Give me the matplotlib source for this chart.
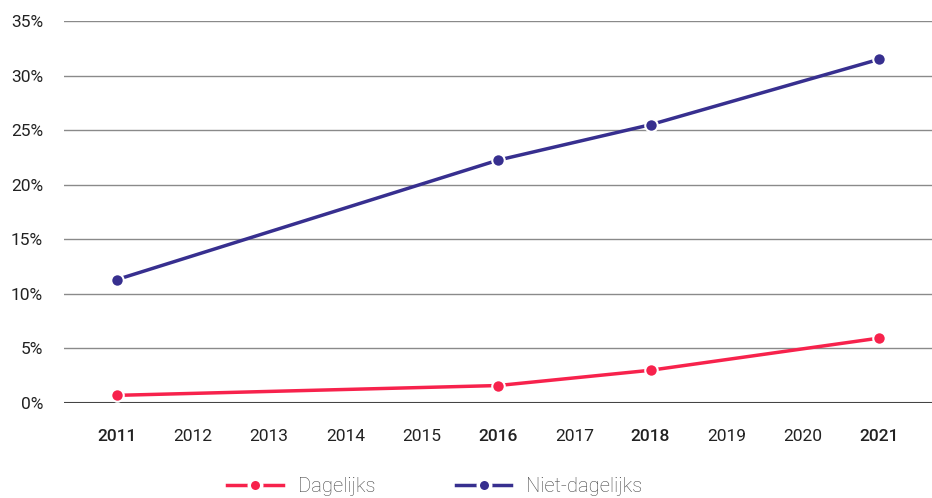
import matplotlib.pyplot as plt
import numpy as np

plt.rcParams['font.family'] = ['Roboto', 'DejaVu Sans']

years = ['2011', '2012', '2013', '2014', '2015', '2016', '2017', '2018', '2019', '2020', '2021']
bold_years = ['2011', '2016', '2018', '2021']

measured_years = ['2011', '2016', '2018', '2021']
dagelijks = [0.7, 1.6, 3.0, 5.95]
niet_dagelijks = [11.3, 22.25, 25.5, 31.5]

red = '#F7224C'
navy = '#372F8F'

fig = plt.figure(figsize=(9.32, 4.98), dpi=100)
ax = fig.add_axes([64 / 932, 1 - 403 / 498, 1 - 64 / 932, (403 - 21) / 498])

xpos = [years.index(y) for y in measured_years]
style = dict(lw=2.5, marker='o', ms=9, mec='white', mew=1.5, zorder=3)
ax.plot(xpos, dagelijks, color=red, mfc=red, label='Dagelijks', **style)
ax.plot(xpos, niet_dagelijks, color=navy, mfc=navy, label='Niet-dagelijks', **style)

ax.set_ylim(0, 35)
ax.set_yticks(np.arange(0, 36, 5))
ax.set_yticklabels([f'{v}%' for v in range(0, 36, 5)])
ax.set_xlim(-0.69, len(years) - 1 + 0.69)
ax.set_xticks(range(len(years)))
ax.set_xticklabels(years)
for lbl in ax.get_xticklabels():
    if lbl.get_text() in bold_years:
        lbl.set_fontweight('medium')

ax.grid(axis='y', color='#8a8a8a', lw=1)
ax.axhline(0, color='#444444', lw=1.5, zorder=2)
for s in ax.spines.values():
    s.set_visible(False)
ax.tick_params(axis='both', length=0, labelsize=12.5, colors='#222222')
ax.tick_params(axis='x', pad=19)
ax.tick_params(axis='y', pad=15)

leg = fig.legend(loc='center', bbox_to_anchor=(435 / 932, 1 - 487 / 498), ncol=2,
                 frameon=False, handlelength=2.75, handletextpad=0.75, columnspacing=4.0,
                 prop={'size': 14.5, 'weight': 'light'}, labelcolor='#444444')
for h in leg.legend_handles:
    h.set_markeredgewidth(2.5)

fig.savefig('out.png', dpi=100)
